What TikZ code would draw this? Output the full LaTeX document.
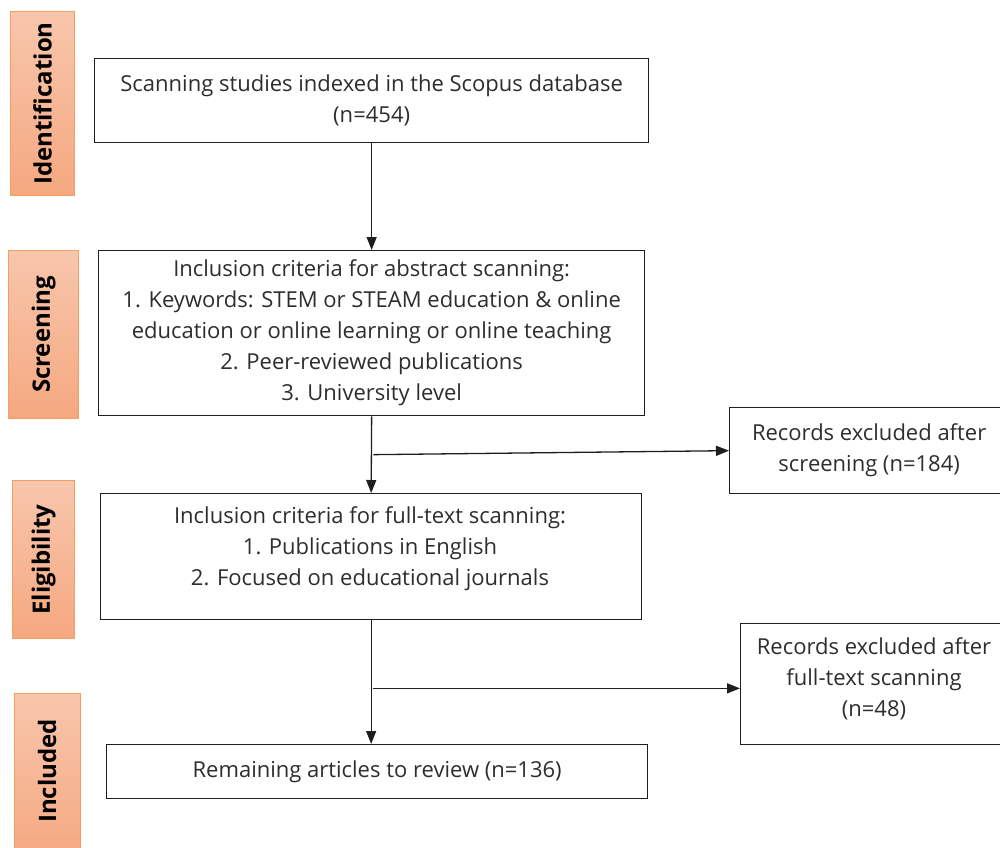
\documentclass[tikz,border=0pt]{standalone}
\usepackage{fontspec}
\setmainfont{Open Sans}
\usetikzlibrary{arrows.meta,calc}
\definecolor{sidetop}{RGB}{248,198,172}
\definecolor{sidebot}{RGB}{245,168,128}
\definecolor{sideedge}{RGB}{243,158,98}
\definecolor{txt}{RGB}{45,45,45}
\definecolor{ln}{RGB}{30,30,30}
\tikzset{
  sidebox/.style={draw=sideedge,line width=1.2pt,top color=sidetop,bottom color=sidebot,anchor=north west,inner sep=0pt},
  sidetext/.style={rotate=90,font=\fontsize{24}{28}\selectfont\bfseries,text=black},
  mainbox/.style={draw=ln,line width=1.3pt,anchor=north west,inner sep=0pt,align=center,text=txt,font=\fontsize{22}{31}\selectfont},
  plaintext/.style={text=txt,font=\fontsize{22}{31}\selectfont,align=center,inner sep=0pt},
  arr/.style={draw=ln,line width=1.3pt,-{Triangle[length=13pt,width=10pt]}}
}
\begin{document}
\begin{tikzpicture}[x=1pt,y=-1pt]
\useasboundingbox (0,0) rectangle (1000,847);
% side boxes
\node[sidebox,minimum width=64pt,minimum height=184pt] (s1) at (10,11) {};
\node[sidetext] (t1) at (s1.center) {Identification};
\node[sidebox,minimum width=70pt,minimum height=168pt] (s2) at (8,250) {};
\node[sidetext] (t2) at (s2.center) {Screening};
\node[sidebox,minimum width=62pt,minimum height=158pt] (s3) at (12,480) {};
\node[sidetext] (t3) at (s3.center) {Eligibility};
\node[sidebox,minimum width=66pt,minimum height=170pt] (s4) at (14,693) {};
\node[sidetext] (t4) at (47,771) {Included};
% main boxes
\node[mainbox,minimum width=554pt,minimum height=84pt] (b1) at (94,58)
  {Scanning studies indexed in the Scopus database\\(n=454)};
\node[mainbox,minimum width=546pt,minimum height=165pt] (b2) at (98,250)
  {Inclusion criteria for abstract scanning:\\1. Keywords: STEM or STEAM education \& online\\education or online learning or online teaching\\2. Peer-reviewed publications\\3. University level};
\node[mainbox,minimum width=541pt,minimum height=126pt] (b3) at (100,493) {};
\node[plaintext] (b3t) at (370,549) {Inclusion criteria for full-text scanning:\\1. Publications in English\\2. Focused on educational journals};
\node[mainbox,minimum width=541pt,minimum height=54pt] (b4) at (106,744)
  {Remaining articles to review (n=136)};
\node[mainbox,minimum width=279pt,minimum height=86pt] (r1) at (729,407)
  {Records excluded after\\screening (n=184)};
\node[mainbox,minimum width=268pt,minimum height=121pt] (r2) at (740,623) {};
\node[plaintext] (r2t) at (874,679) {Records excluded after\\full-text scanning\\(n=48)};
% connectors
\draw[arr] (b1.south) -- (b2.north);
\draw[arr] (b2.south) -- (b3.north);
\draw[arr] (b3.south) -- (b3.south |- b4.north);
\coordinate (m1) at ($(b2.south)!0.5!(b3.north)+(2,0)$);
\coordinate (m2) at ($(b3.south)!0.55!(b3.south |- b4.north)+(2,0)$);
\draw[arr] (m1) -- (r1.west);
\draw[arr] (m2) -- (m2 -| r2.west);
\end{tikzpicture}
\end{document}
